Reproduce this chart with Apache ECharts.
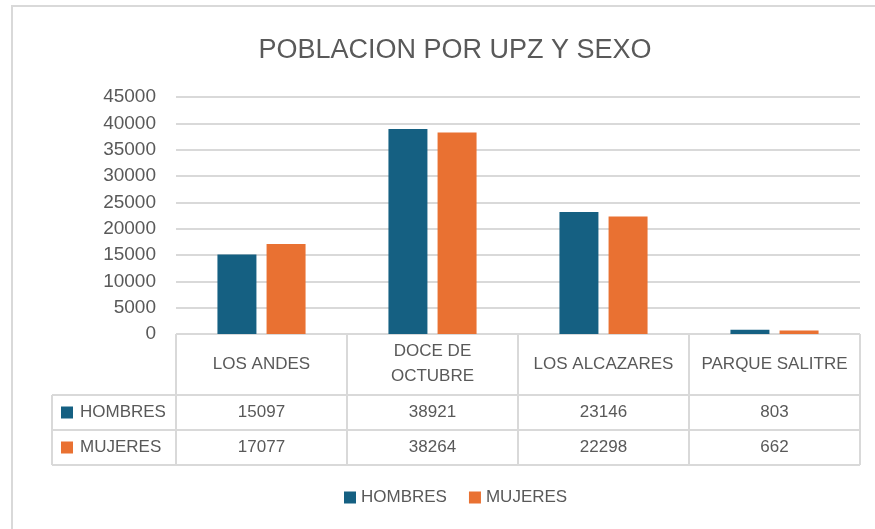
<!DOCTYPE html>
<html lang="es">
<head>
<meta charset="UTF-8" />
<title>POBLACION POR UPZ Y SEXO</title>
<script src="https://cdn.jsdelivr.net/npm/echarts@6/dist/echarts.min.js"></script>
<style>
  html, body { margin: 0; padding: 0; background: #fff; }
  #main { width: 875px; height: 529px; }
</style>
</head>
<body>
<div id="main"></div>
<script>
  // datos
  var categorias = ['LOS ANDES', 'DOCE DE\nOCTUBRE', 'LOS ALCAZARES', 'PARQUE SALITRE'];
  var hombres = [15097, 38921, 23146, 803];
  var mujeres = [17077, 38264, 22298, 662];
  var nombres = ['HOMBRES', 'MUJERES'];
  var yMax = 45000, yPaso = 5000;

  var colores = ['#156082', '#E97132'];
  var gris = '#595959', linea = '#d9d9d9';
  var fuente = '"Liberation Sans", Arial, sans-serif';

  // marco de la grafica y tabla de datos
  var gLeft = 176, gRight = 15, gTop = 97, gBottom = 195;
  var W = 875, H = 529;
  var tablaIzq = 52;
  var filas = [334, 395, 430, 465];

  var myChart = echarts.init(document.getElementById('main'), null, { renderer: 'canvas' });

  function tabla() {
    var x0 = gLeft, x1 = W - gRight;
    var colW = (x1 - x0) / categorias.length;
    var els = [];
    // marco exterior
    els.push({ type: 'rect', shape: { x: 12, y: 6, width: 900, height: 600 },
      style: { fill: 'none', stroke: linea, lineWidth: 2 }, silent: true });
    // lineas horizontales
    els.push({ type: 'line', shape: { x1: x0, y1: filas[0], x2: x1, y2: filas[0] }, style: { stroke: linea, lineWidth: 2 } });
    for (var r = 1; r < filas.length; r++) {
      els.push({ type: 'line', shape: { x1: tablaIzq, y1: filas[r], x2: x1, y2: filas[r] }, style: { stroke: linea, lineWidth: 2 } });
    }
    // lineas verticales
    for (var c = 0; c <= categorias.length; c++) {
      var x = x0 + c * colW;
      els.push({ type: 'line', shape: { x1: x, y1: filas[0], x2: x, y2: filas[3] }, style: { stroke: linea, lineWidth: 2 } });
    }
    els.push({ type: 'line', shape: { x1: tablaIzq, y1: filas[1], x2: tablaIzq, y2: filas[3] }, style: { stroke: linea, lineWidth: 2 } });

    var series = [hombres, mujeres];
    for (var s = 0; s < 2; s++) {
      var cy = (filas[s + 1] + filas[s + 2]) / 2;
      els.push({ type: 'rect', shape: { x: 61, y: cy - 6, width: 12, height: 12 }, style: { fill: colores[s] } });
      els.push({ type: 'text', x: 80, y: cy, style: { text: nombres[s], font: '17px ' + fuente, fill: gris, verticalAlign: 'middle', align: 'left' } });
      for (var i = 0; i < categorias.length; i++) {
        els.push({ type: 'text', x: x0 + (i + 0.5) * colW, y: cy,
          style: { text: String(series[s][i]), font: '17px ' + fuente, fill: gris, align: 'center', verticalAlign: 'middle' } });
      }
    }
    return els;
  }

  var option = {
    backgroundColor: '#fff',
    animation: false,
    color: colores,
    title: {
      text: 'POBLACION POR UPZ Y SEXO',
      left: 450,
      textAlign: 'center',
      top: 32,
      textStyle: { fontFamily: fuente, fontSize: 27, fontWeight: 'normal', color: gris }
    },
    legend: {
      data: nombres,
      left: 339,
      top: 484,
      itemWidth: 12,
      itemHeight: 12,
      itemGap: 22,
      icon: 'rect',
      textStyle: { fontFamily: fuente, fontSize: 17, color: gris }
    },
    grid: { left: gLeft, right: gRight, top: gTop, bottom: gBottom },
    xAxis: {
      type: 'category',
      data: categorias,
      axisLine: { show: false },
      axisTick: { show: false },
      axisLabel: {
        interval: 0,
        margin: 30,
        verticalAlign: 'middle',
        fontFamily: fuente,
        fontSize: 17,
        lineHeight: 25,
        color: gris
      }
    },
    yAxis: {
      type: 'value',
      min: 0,
      max: yMax,
      interval: yPaso,
      axisLine: { show: false },
      axisTick: { show: false },
      axisLabel: {
        fontFamily: fuente, fontSize: 19, color: gris, margin: 20,
        formatter: function (v) { return String(v); }
      },
      splitLine: { lineStyle: { color: linea, width: 2 } }
    },
    series: [
      { name: nombres[0], type: 'bar', data: hombres, barWidth: '22.8%', barGap: '26%' },
      { name: nombres[1], type: 'bar', data: mujeres, barWidth: '22.8%', barGap: '26%' }
    ],
    graphic: tabla()
  };

  myChart.setOption(option);
</script>
</body>
</html>
